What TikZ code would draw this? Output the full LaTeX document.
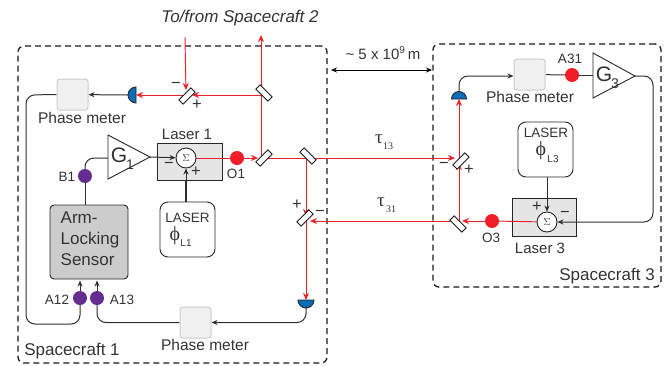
\documentclass[tikz,border=0pt]{standalone}
\usepackage{fontspec}
\setmainfont{Liberation Sans}
\newfontfamily\symf{Liberation Serif}
\usetikzlibrary{arrows.meta}
\pgfdeclarelayer{under}
\pgfdeclarelayer{lines}
\pgfsetlayers{under,lines,main}
\definecolor{rd}{HTML}{F01E28}
\definecolor{bl}{HTML}{0B6DB7}
\definecolor{pu}{HTML}{662D91}
\definecolor{tx}{HTML}{333333}
\newcommand{\fs}[1]{\fontsize{#1}{#1}\selectfont}
\tikzset{
  x=1pt,y=-1pt,
  lab/.style={inner sep=0pt,text=tx,font=\fs{15.5}},
  small/.style={inner sep=0pt,text=tx,font=\fs{13.5}},
  sign/.style={inner sep=0pt,text=tx,font=\fs{16.5}},
  scbox/.style={draw=black!90,line width=1.3pt,dash pattern=on 6pt off 4pt,rounded corners=6pt},
  pmbox/.style={draw=black!20,fill=black!6,line width=1pt,rounded corners=3pt,minimum width=31pt,minimum height=31pt,inner sep=0pt},
  laserbox/.style={draw=black!85,fill=black!10,line width=1pt,inner sep=0pt},
  srcbox/.style={draw=black!85,fill=white,line width=.9pt,rounded corners=8pt,inner sep=0pt,minimum width=55pt,minimum height=55pt},
  sensor/.style={draw=black!85,fill=black!20,line width=.9pt,rounded corners=4pt,inner sep=0pt,minimum width=78pt,minimum height=74pt},
  sumn/.style={circle,draw=black!85,fill=white,line width=.9pt,minimum size=20pt,inner sep=0pt,font=\symf\fs{10},text=tx},
  dot/.style={circle,minimum size=14pt,inner sep=0pt},
  bs/.style={draw=black!90,fill=white,line width=.9pt,minimum width=17pt,minimum height=6pt,inner sep=0pt},
  beam/.style={draw=rd,line width=.95pt},
  beamA/.style={beam,-{Stealth[length=7pt,width=6pt]}},
  wire/.style={draw=black!82,line width=1pt},
  wireA/.style={wire,-{Stealth[length=6pt,width=5pt]}},
  amp/.style={draw=black!85,line width=.9pt,fill=white,line join=miter},
  det/.style={draw=black!85,line width=.9pt,fill=bl},
}
\begin{document}
\begin{tikzpicture}
\useasboundingbox (0,0) rectangle (672,365);
% ---- boxes (lowest layer)
\begin{pgfonlayer}{under}
\node[scbox,minimum width=309pt,minimum height=317pt,inner sep=0pt] (sc1) at (172.5,204.5) {};
\node[scbox,minimum width=228pt,minimum height=243pt,inner sep=0pt] (sc3) at (547,165.5) {};
\node[laserbox,minimum width=65pt,minimum height=37pt] (las1) at (189.5,161.5) {};
\node[laserbox,minimum width=64pt,minimum height=38pt] (las3) at (544,217) {};
\end{pgfonlayer}
% ---- devices
\node[pmbox] (pm1) at (72.5,94.5) {};
\node[pmbox] (pm2) at (195.5,322.5) {};
\node[pmbox] (pm3) at (529.5,74.5) {};
\node[sensor] (sens) at (89,242) {};
\node[srcbox] (src1) at (187.5,229.5) {};
\node[srcbox] (src3) at (545.5,149.5) {};
\node[sumn] (sum1) at (186,158) {$\Sigma$};
\node[sumn] (sum3) at (547,222) {$\Sigma$};
\node[dot,fill=rd] (O1) at (237,158) {};
\node[dot,fill=rd] (O3) at (492,221) {};
\node[dot,fill=rd] (A31) at (572,75) {};
\node[dot,fill=pu] (B1) at (85,176) {};
\node[dot,fill=pu] (A12) at (80,298) {};
\node[dot,fill=pu] (A13) at (97,298) {};
% amplifiers
\coordinate (g1in) at (108,158);
\coordinate (g1out) at (150,157);
\coordinate (g3in) at (593,75);
\coordinate (g3out) at (635,76);
\draw[amp] (108,135) -- (g1out) -- (108,179) -- cycle;
\draw[amp] (593,53) -- (g3out) -- (593,98) -- cycle;
% detectors
\coordinate (d1) at (136,95);
\coordinate (d2) at (306,300);
\coordinate (d2b) at (306,308);
\coordinate (d3) at (459,99);
\coordinate (d3b) at (459,91);
\coordinate (d1b) at (128,95);
\draw[det] (136,87) arc[start angle=90,end angle=270,radius=8pt] -- cycle;
\draw[det] (298,300) arc[start angle=180,end angle=360,radius=8pt] -- cycle;
\draw[det] (451.5,99) arc[start angle=180,end angle=0,radius=7.5pt] -- cycle;
% beam splitters
\node[bs,rotate=45] (m1) at (187,96) {};
\node[bs,rotate=-45] (m2) at (264,93) {};
\node[bs,rotate=45] (m3) at (264,158) {};
\node[bs,rotate=-45] (m4) at (308,156) {};
\node[bs,rotate=45] (m5) at (305,218) {};
\node[bs,rotate=45] (m6) at (461,161) {};
\node[bs,rotate=-45] (m7) at (458,224) {};
% beam hit points
\coordinate (in2) at (185,37);
\coordinate (out2) at (261,35);
\coordinate (h1) at (186,95);
\coordinate (h2) at (261,95);
\coordinate (h3) at (261,158);
\coordinate (h4) at (306,158);
\coordinate (h5) at (459,158);
\coordinate (h6) at (306,221);
\coordinate (h7) at (459,221);
% spacing arrow ends
\coordinate (gapL) at (331,70);
\coordinate (gapR) at (432,70);
% ---- connectors
\begin{pgfonlayer}{lines}
\draw[beamA,shorten >=5pt] (in2) -- (h1);
\draw[beamA,shorten >=6pt] (h2) -- (h1);
\draw[beamA] (h1) -- (d1);
\draw[beamA] (h3) -- (out2);
\draw[beam] (sum1) -- (O1);
\draw[beamA,shorten >=3pt] (O1) -- (h3);
\draw[beamA,shorten >=4pt] (h3) -- (h5);
\draw[beamA,shorten >=5pt] (h4) -- (h6);
\draw[beamA] (h6) -- (d2);
\draw[beamA,shorten >=4pt] (h7) -- (h6);
\draw[beamA,shorten >=5pt] (h7) -- (h5);
\draw[beamA] (h5) -- (d3);
\draw[beam] (sum3) -- (O3);
\draw[beamA,shorten >=3pt] (O3) -- (h7);
% wires
\draw[wireA] (d1b) -- (pm1);
\draw[wire,rounded corners=9pt] (pm1.west) -- (26,95) -- (26,324) -- (80,324) -- (A12);
\draw[wireA,shorten >=1pt] (A12) -- (A12 |- sens.south);
\draw[wireA,shorten >=1pt] (A13) -- (A13 |- sens.south);
\draw[wire,rounded corners=9pt] (pm2.west) -- (97,322.5) -- (A13);
\draw[wireA,rounded corners=9pt] (d2b) -- (306,322.5) -- (pm2.east);
\draw[wire] (B1) -- (B1 |- sens.north);
\draw[wire,rounded corners=9pt] (B1) -- (85,158) -- (g1in);
\draw[wireA] (g1out) -- (sum1);
\draw[wire,line width=1.2pt] (src1.north -| sum1) -- (las1.south -| sum1);
\draw[wireA,line width=1pt] (las1.south -| sum1) -- (sum1);
\draw[wireA] (src3.south -| sum3) -- (sum3);
\draw[wireA,rounded corners=9pt] (d3b) -- (459,76) -- (pm3.west |- 0,76);
\draw[wire] (pm3) -- (A31);
\draw[wire] (A31) -- (g3in);
\draw[wireA,rounded corners=9pt] (g3out) -- (653,76) -- (653,222) -- (sum3);
\draw[black,line width=.9pt,{Stealth[length=6pt,width=5pt]}-{Stealth[length=6pt,width=5pt]}] (gapL) -- (gapR);
\end{pgfonlayer}
% ---- texts
\node[lab,font=\fs{17}\itshape] (t0) at (240,18) {To/from Spacecraft 2};
\node[lab,font=\fs{15}] (t1) at (383,53) {\textasciitilde{} 5 x 10\textsuperscript{\fs{10}9}\,m};
\node[lab] (p1) at (82,118) {Phase meter};
\node[lab] (p2) at (205,345) {Phase meter};
\node[lab] (p3) at (530,97) {Phase meter};
\node[lab,font=\fs{15}] (l1) at (187,134) {Laser 1};
\node[lab,font=\fs{15}] (l3) at (540,248) {Laser 3};
\node[lab,font=\fs{17}] (s1) at (72,351) {Spacecraft 1};
\node[lab,font=\fs{17}] (s3) at (607,276) {Spacecraft 3};
\node[lab,font={\fontsize{17}{21}\selectfont},align=left,anchor=north west] (st) at (60.5,212) {Arm-\\Locking\\Sensor};
\node[small] (lb1) at (187.5,218) {LASER};
\node[small] (lb3) at (546,133) {LASER};
\node[lab,font=\symf\fs{20}] (ph1) at (175,236) {ϕ};
\node[small,font=\fs{10}] (ph1s) at (186,243) {L1};
\node[lab,font=\symf\fs{20}] (ph3) at (541,151) {ϕ};
\node[small,font=\fs{10}] (ph3s) at (553,159) {L3};
\node[lab,font=\fs{21}] (G1) at (119,155) {G};
\node[small,font=\fs{14}] (G1s) at (130,165) {1};
\node[lab,font=\fs{21}] (G3) at (604,74) {G};
\node[small,font=\fs{14}] (G3s) at (615,84) {3};
\node[small] (tO1) at (236,174) {O1};
\node[small] (tO3) at (491,238) {O3};
\node[small] (tB1) at (67,177) {B1};
\node[small] (tA12) at (57,300) {A12};
\node[small] (tA13) at (122,300) {A13};
\node[small] (tA31) at (570,59) {A31};
\node[lab,font=\symf\fs{19}] (tau13) at (379,139) {τ};
\node[lab,font=\symf\fs{10}] (tau13s) at (388,146) {13};
\node[lab,font=\symf\fs{19}] (tau31) at (381,202) {τ};
\node[lab,font=\symf\fs{10}] (tau31s) at (391,209) {31};
\node[sign] (a1) at (176,85) {−};
\node[sign] (a2) at (197,105) {+};
\node[sign] (a3) at (169,165) {−};
\node[sign] (a4) at (196,172) {+};
\node[sign] (a5) at (297,205) {+};
\node[sign] (a6) at (320,213) {−};
\node[sign] (a7) at (444,165) {−};
\node[sign] (a8) at (469,170) {+};
\node[sign] (a9) at (537,207) {+};
\node[sign] (a10) at (565,214) {−};
\end{tikzpicture}
\end{document}
